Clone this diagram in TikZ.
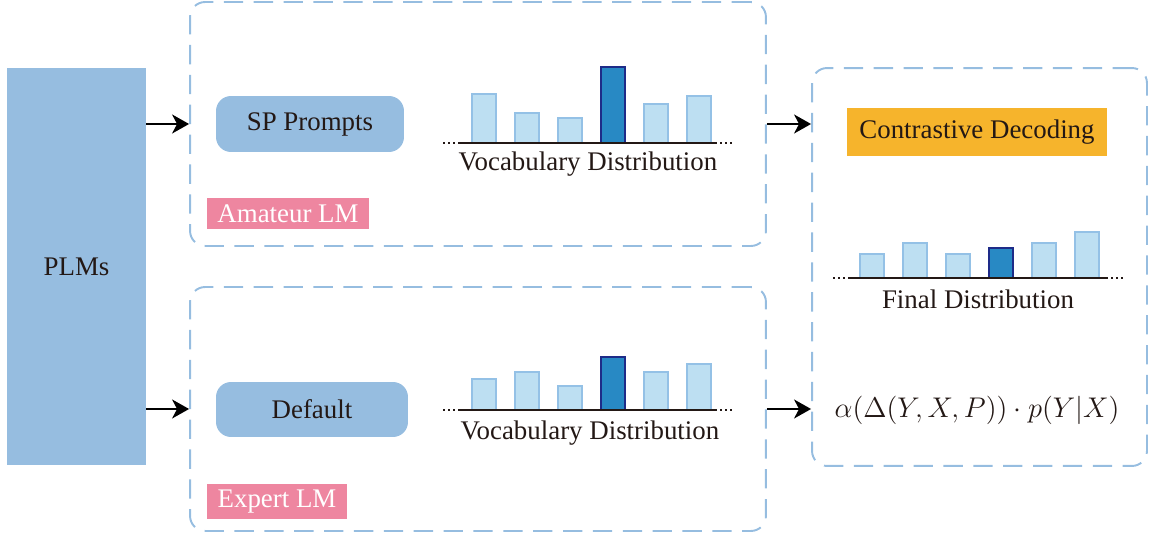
\RequirePackage{fix-cm}
\documentclass[tikz,border=0pt]{standalone}
\usepackage{fontspec}
\setmainfont{Liberation Serif}
\usetikzlibrary{arrows.meta}

\definecolor{plmblue}{RGB}{150,189,224}
\definecolor{barfill}{RGB}{189,223,242}
\definecolor{barline}{RGB}{148,193,230}
\definecolor{topfill}{RGB}{40,137,196}
\definecolor{topline}{RGB}{30,43,136}
\definecolor{tagpink}{RGB}{238,134,160}
\definecolor{cdorange}{RGB}{246,180,44}
\definecolor{ink}{RGB}{35,24,21}

\tikzset{
  txt/.style={font=\fontsize{15.3}{18}\selectfont, text=ink},
  dashbox/.style={draw=plmblue, line width=1.1pt, dash pattern=on 11pt off 6pt, rounded corners=0.3cm},
  pillbox/.style={txt, fill=plmblue, rounded corners=0.3cm},
  tagbox/.style={font=\fontsize{15.3}{18}\selectfont, text=white, fill=tagpink},
  bar/.style={fill=barfill, draw=barline, line width=1.1pt},
  topbar/.style={fill=topfill, draw=topline, line width=1.1pt},
  axis/.style={draw=ink, line width=1.1pt},
  dots/.style={draw=ink, line width=1.1pt, dash pattern=on 0.9pt off 2pt},
  flow/.style={-{Stealth[length=0.34cm,width=0.38cm,inset=0.1cm]}, line width=1.1pt, black}
}

\begin{document}
\begin{tikzpicture}[x=0.02cm,y=-0.02cm]
  \useasboundingbox (0,0) rectangle (1150,540);

  % frames
  \node[dashbox, minimum width=11.52cm, minimum height=4.88cm] (amateur) at (478,124) {};
  \node[dashbox, minimum width=11.52cm, minimum height=4.88cm] (expert) at (478,409) {};
  \node[dashbox, minimum width=6.7cm, minimum height=7.96cm] (decode) at (979.5,267) {};

  \node[txt, fill=plmblue, minimum width=2.78cm, minimum height=7.94cm] (plms) at (76.5,266.5) {PLMs};

  \node[pillbox, minimum width=3.76cm, minimum height=1.12cm] (sp) at (310,124) {SP Prompts};
  \node[pillbox, minimum width=3.84cm, minimum height=1.1cm] (default) at (312,409.5) {Default};
  \node[tagbox, minimum width=3.24cm, minimum height=0.62cm] (amtag) at (288,213.5) {Amateur LM};
  \node[tagbox, minimum width=2.8cm, minimum height=0.62cm] (extag) at (277,501.5) {Expert LM};
  \node[txt, fill=cdorange, minimum width=5.2cm, minimum height=0.96cm] (cd) at (977,132) {Contrastive Decoding};

  % amateur distribution
  \draw[bar] (472,143) rectangle (496,94);
  \draw[bar] (515,143) rectangle (539,113);
  \draw[bar] (558,143) rectangle (582,118);
  \draw[topbar] (601,143) rectangle (625,67);
  \draw[bar] (644,143) rectangle (668,104);
  \draw[bar] (687,143) rectangle (711,96);
  \draw[axis] (458,143) -- (717,143);
  \draw[dots] (443,143) -- (456,143);
  \draw[dots] (720,143) -- (735,143);
  \node[txt] (vocab1) at (588,164) {Vocabulary Distribution};

  % expert distribution
  \draw[bar] (472,410) rectangle (496,379);
  \draw[bar] (515,410) rectangle (539,372);
  \draw[bar] (558,410) rectangle (582,386);
  \draw[topbar] (601,410) rectangle (625,357);
  \draw[bar] (644,410) rectangle (668,372);
  \draw[bar] (687,410) rectangle (711,364);
  \draw[axis] (458,410) -- (717,410);
  \draw[dots] (443,410) -- (456,410);
  \draw[dots] (720,410) -- (735,410);
  \node[txt] (vocab2) at (590,433) {Vocabulary Distribution};

  % final distribution
  \draw[bar] (860,278) rectangle (884,254);
  \draw[bar] (903,278) rectangle (927,243);
  \draw[bar] (946,278) rectangle (970,254);
  \draw[topbar] (989,278) rectangle (1013,248);
  \draw[bar] (1032,278) rectangle (1056,243);
  \draw[bar] (1075,278) rectangle (1099,232);
  \draw[axis] (848,278) -- (1108,278);
  \draw[dots] (833,278) -- (846,278);
  \draw[dots] (1111,278) -- (1124,278);
  \node[txt] (final) at (978,299) {Final Distribution};

  \node[txt, font=\fontsize{16.2}{19}\selectfont] (score) at (977,410) {$\alpha(\Delta(Y,X,P))\cdot p(Y|X)$};

  \begin{scope}[flow]
    \draw (plms.east |- amateur.west) to (amateur.west);
    \draw (plms.east |- expert.west) to (expert.west);
    \draw (amateur.east) to (decode.west |- amateur.east);
    \draw (expert.east) to (decode.west |- expert.east);
  \end{scope}
\end{tikzpicture}
\end{document}
